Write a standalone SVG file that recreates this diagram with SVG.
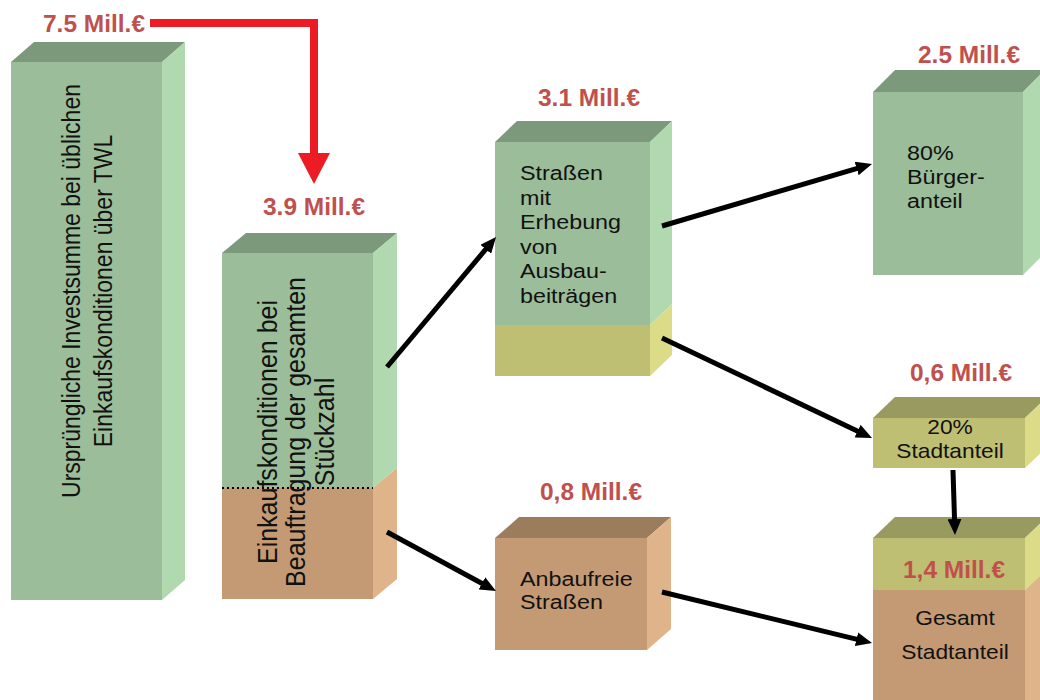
<svg xmlns="http://www.w3.org/2000/svg" width="1040" height="700" viewBox="0 0 1040 700">
<defs>
<style>
.gF{fill:#9BBD99}.gT{fill:#7C997B}.gS{fill:#B1D9B0}
.bF{fill:#C49A74}.bT{fill:#9B7C5C}.bS{fill:#DFB48A}
.yF{fill:#BFBF74}.yT{fill:#999A5F}.yS{fill:#DCDC88}
.t{font-family:"Liberation Sans",Arial,sans-serif;fill:#111;font-size:21px}
.lbl{font-family:"Liberation Sans",Arial,sans-serif;fill:#C0504D;font-size:24px;font-weight:bold}
.arr{stroke:#000;stroke-width:5;fill:none;marker-end:url(#ah)}
</style>
<marker id="ah" viewBox="0 0 16 14" markerUnits="userSpaceOnUse" markerWidth="16" markerHeight="14" refX="6" refY="7" orient="auto">
<path d="M0,0 L16,7 L0,14 z" fill="#000"/>
</marker>
</defs>
<rect width="1040" height="700" fill="#fff"/>

<g id="box1">
<rect class="gF" x="11" y="62" width="151" height="538"/>
<polygon class="gT" points="11,62 34,42 185,42 162,62"/>
<polygon class="gS" points="162,62 185,42 185,580 162,600"/>
<text class="t" style="font-size:23px" text-anchor="middle" transform="translate(80 291) scale(1.11 1) rotate(-90)"><tspan x="0" y="0">Ursprüngliche Investsumme bei üblichen</tspan><tspan x="0" dy="28.8">Einkaufskonditionen über TWL</tspan></text>
</g>

<g id="box2">
<rect class="gF" x="222" y="253" width="151" height="235"/>
<rect class="bF" x="222" y="488" width="151" height="111"/>
<polygon class="gT" points="222,253 246,233 397,233 373,253"/>
<polygon class="gS" points="373,253 397,233 397,468 373,488"/>
<polygon class="bS" points="373,488 397,468 397,579 373,599"/>
<line x1="222" y1="488" x2="373" y2="488" stroke="#000" stroke-width="2" stroke-dasharray="2,3"/>
<text class="t" style="font-size:25px" text-anchor="middle" transform="translate(277 432) scale(1.11 1) rotate(-90)"><tspan x="0" y="0">Einkaufskonditionen bei</tspan><tspan x="0" dy="25.5">Beauftragung der gesamten</tspan><tspan x="0" dy="25.5">Stückzahl</tspan></text>
<text class="lbl" x="0" y="0" transform="translate(263 215) scale(1.02 1)">3.9 Mill.€</text>
</g>

<g id="box3">
<rect class="gF" x="495" y="142" width="155" height="183"/>
<rect class="yF" x="495" y="325" width="155" height="51"/>
<polygon class="gT" points="495,142 517,121 672,121 650,142"/>
<polygon class="gS" points="650,142 672,121 672,304 650,325"/>
<polygon class="yS" points="650,325 672,304 672,355 650,376"/>
<text class="t" transform="translate(520 180) scale(1.11 1)"><tspan x="0" y="0">Straßen</tspan><tspan x="0" dy="24.6">mit</tspan><tspan x="0" dy="24.6">Erhebung</tspan><tspan x="0" dy="24.6">von</tspan><tspan x="0" dy="24.6">Ausbau-</tspan><tspan x="0" dy="24.6">beiträgen</tspan></text>
<text class="lbl" x="0" y="0" transform="translate(538 106) scale(1.02 1)">3.1 Mill.€</text>
</g>

<g id="box4">
<rect class="bF" x="495" y="538" width="152" height="112"/>
<polygon class="bT" points="495,538 519,517 671,517 647,538"/>
<polygon class="bS" points="647,538 671,517 671,629 647,650"/>
<text class="t" transform="translate(520 586) scale(1.11 1)"><tspan x="0" y="0">Anbaufreie</tspan><tspan x="0" dy="23">Straßen</tspan></text>
<text class="lbl" x="0" y="0" transform="translate(540 500) scale(1.02 1)">0,8 Mill.€</text>
</g>

<g id="box5">
<rect class="gF" x="873" y="92" width="150" height="183"/>
<polygon class="gT" points="873,92 895,70 1045,70 1023,92"/>
<polygon class="gS" points="1023,92 1045,70 1045,253 1023,275"/>
<text class="t" transform="translate(907 160) scale(1.11 1)"><tspan x="0" y="0">80%</tspan><tspan x="0" dy="24">Bürger-</tspan><tspan x="0" dy="24">anteil</tspan></text>
<text class="lbl" x="0" y="0" transform="translate(918 63) scale(1.02 1)">2.5 Mill.€</text>
</g>

<g id="box6">
<rect class="yF" x="873" y="418" width="152" height="50"/>
<polygon class="yT" points="873,418 895,397 1047,397 1025,418"/>
<polygon class="yS" points="1025,418 1047,397 1047,447 1025,468"/>
<text class="t" style="font-size:20.5px" text-anchor="middle" transform="translate(950 434) scale(1.11 1)"><tspan x="0" y="0">20%</tspan><tspan x="0" dy="24">Stadtanteil</tspan></text>
<text class="lbl" x="0" y="0" transform="translate(910 381) scale(1.02 1)">0,6 Mill.€</text>
</g>

<g id="box7">
<rect class="yF" x="873" y="538" width="152" height="52"/>
<rect class="bF" x="873" y="590" width="152" height="120"/>
<polygon class="yT" points="873,538 895,517 1047,517 1025,538"/>
<polygon class="yS" points="1025,538 1047,517 1047,569 1025,590"/>
<polygon class="bS" points="1025,590 1047,569 1047,700 1025,710"/>
<text class="lbl" x="0" y="0" transform="translate(903 578) scale(1.02 1)">1,4 Mill.€</text>
<text class="t" style="font-size:20.5px" text-anchor="middle" transform="translate(955 625) scale(1.11 1)"><tspan x="0" y="0">Gesamt</tspan><tspan x="0" dy="34">Stadtanteil</tspan></text>
</g>

<g id="top-label">
<text class="lbl" x="0" y="0" transform="translate(43 32) scale(1.02 1)">7.5 Mill.€</text>
</g>

<g id="connectors">
<path d="M150,23 H314 V156" stroke="#ED1C24" stroke-width="8" fill="none"/>
<polygon points="298,153 330,153 314,184" fill="#ED1C24"/>
<line class="arr" x1="387" y1="367" x2="489.6" y2="244.7"/>
<line class="arr" x1="387" y1="532" x2="487.2" y2="586.2"/>
<line class="arr" x1="662" y1="226" x2="862.4" y2="166.8"/>
<line class="arr" x1="662" y1="338" x2="863" y2="433.7"/>
<line class="arr" x1="662" y1="592" x2="862.3" y2="640.6"/>
<line class="arr" x1="953" y1="470" x2="954.7" y2="525"/>
</g>
</svg>
